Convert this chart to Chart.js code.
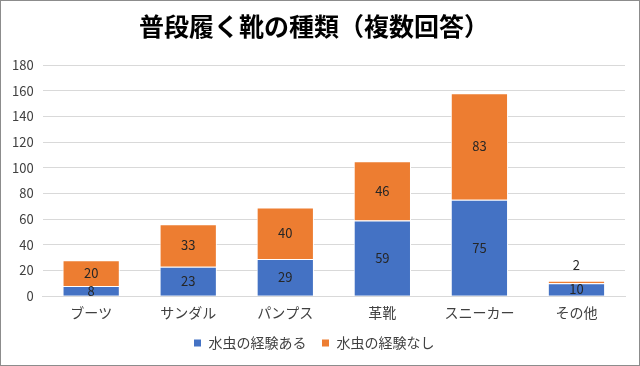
<!DOCTYPE html>
<html>
<head>
<meta charset="utf-8">
<script src="https://cdn.jsdelivr.net/npm/chart.js@4"></script>
<style>
  body { margin: 0; background: #fff; }
  #wrap { width: 640px; height: 366px; box-sizing: border-box; border: 1px solid #8c8c8c; }
</style>
</head>
<body>
<div id="wrap"><canvas id="myChart" width="638" height="364"></canvas></div>
<script>
var categories = ['ブーツ', 'サンダル', 'パンプス', '革靴', 'スニーカー', 'その他'];
var withExp = [8, 23, 29, 59, 75, 10];
var withoutExp = [20, 33, 40, 46, 83, 2];
var seriesNames = ['水虫の経験ある', '水虫の経験なし'];

var FONT = '"Noto Sans CJK JP", "Noto Sans", sans-serif';

// simple data labels, centered in each segment (above the bar if segment is tiny)
var barLabels = {
    id: 'barLabels',
    afterDatasetsDraw: function (chart) {
        var ctx = chart.ctx;
        ctx.save();
        ctx.font = '13px ' + FONT;
        ctx.fillStyle = '#262626';
        ctx.textAlign = 'center';
        ctx.textBaseline = 'middle';
        chart.data.datasets.forEach(function (ds, i) {
            chart.getDatasetMeta(i).data.forEach(function (bar, j) {
                var h = Math.abs(bar.base - bar.y);
                var y = h < 6 ? bar.y - 16 : (bar.y + bar.base) / 2;
                ctx.fillText(ds.data[j], bar.x, y);
            });
        });
        ctx.restore();
    }
};

var ctx = document.getElementById('myChart').getContext('2d');
var myChart = new Chart(ctx, {
    type: 'bar',
    data: {
        labels: categories,
        datasets: [{
            label: seriesNames[0],
            data: withExp,
            backgroundColor: '#4472C4',
            borderColor: '#ffffff',
            borderWidth: 1,
            barPercentage: 0.59,
            categoryPercentage: 1
        }, {
            label: seriesNames[1],
            data: withoutExp,
            backgroundColor: '#ED7D31',
            borderColor: '#ffffff',
            borderWidth: 1,
            barPercentage: 0.59,
            categoryPercentage: 1
        }]
    },
    plugins: [barLabels],
    options: {
        responsive: false,
        animation: false,
        layout: { padding: { left: 2, right: 14, top: 0, bottom: 5 } },
        plugins: {
            title: {
                display: true,
                text: '普段履く靴の種類（複数回答）',
                color: '#000',
                font: { family: FONT, size: 25, weight: 'bold' },
                padding: { top: 10, bottom: 24 }
            },
            legend: {
                position: 'bottom',
                labels: {
                    color: '#404040',
                    font: { family: FONT, size: 14 },
                    boxWidth: 8,
                    boxHeight: 8,
                    padding: 15
                }
            },
            tooltip: { enabled: false }
        },
        scales: {
            x: {
                stacked: true,
                grid: { display: false },
                border: { color: '#d9d9d9' },
                ticks: { color: '#404040', font: { family: FONT, size: 14 }, padding: 0 }
            },
            y: {
                stacked: true,
                min: 0,
                max: 180,
                ticks: { stepSize: 20, color: '#404040', font: { family: FONT, size: 13 }, padding: 9 },
                grid: { color: '#d9d9d9', drawTicks: false },
                border: { display: false }
            }
        }
    }
});
</script>
</body>
</html>
